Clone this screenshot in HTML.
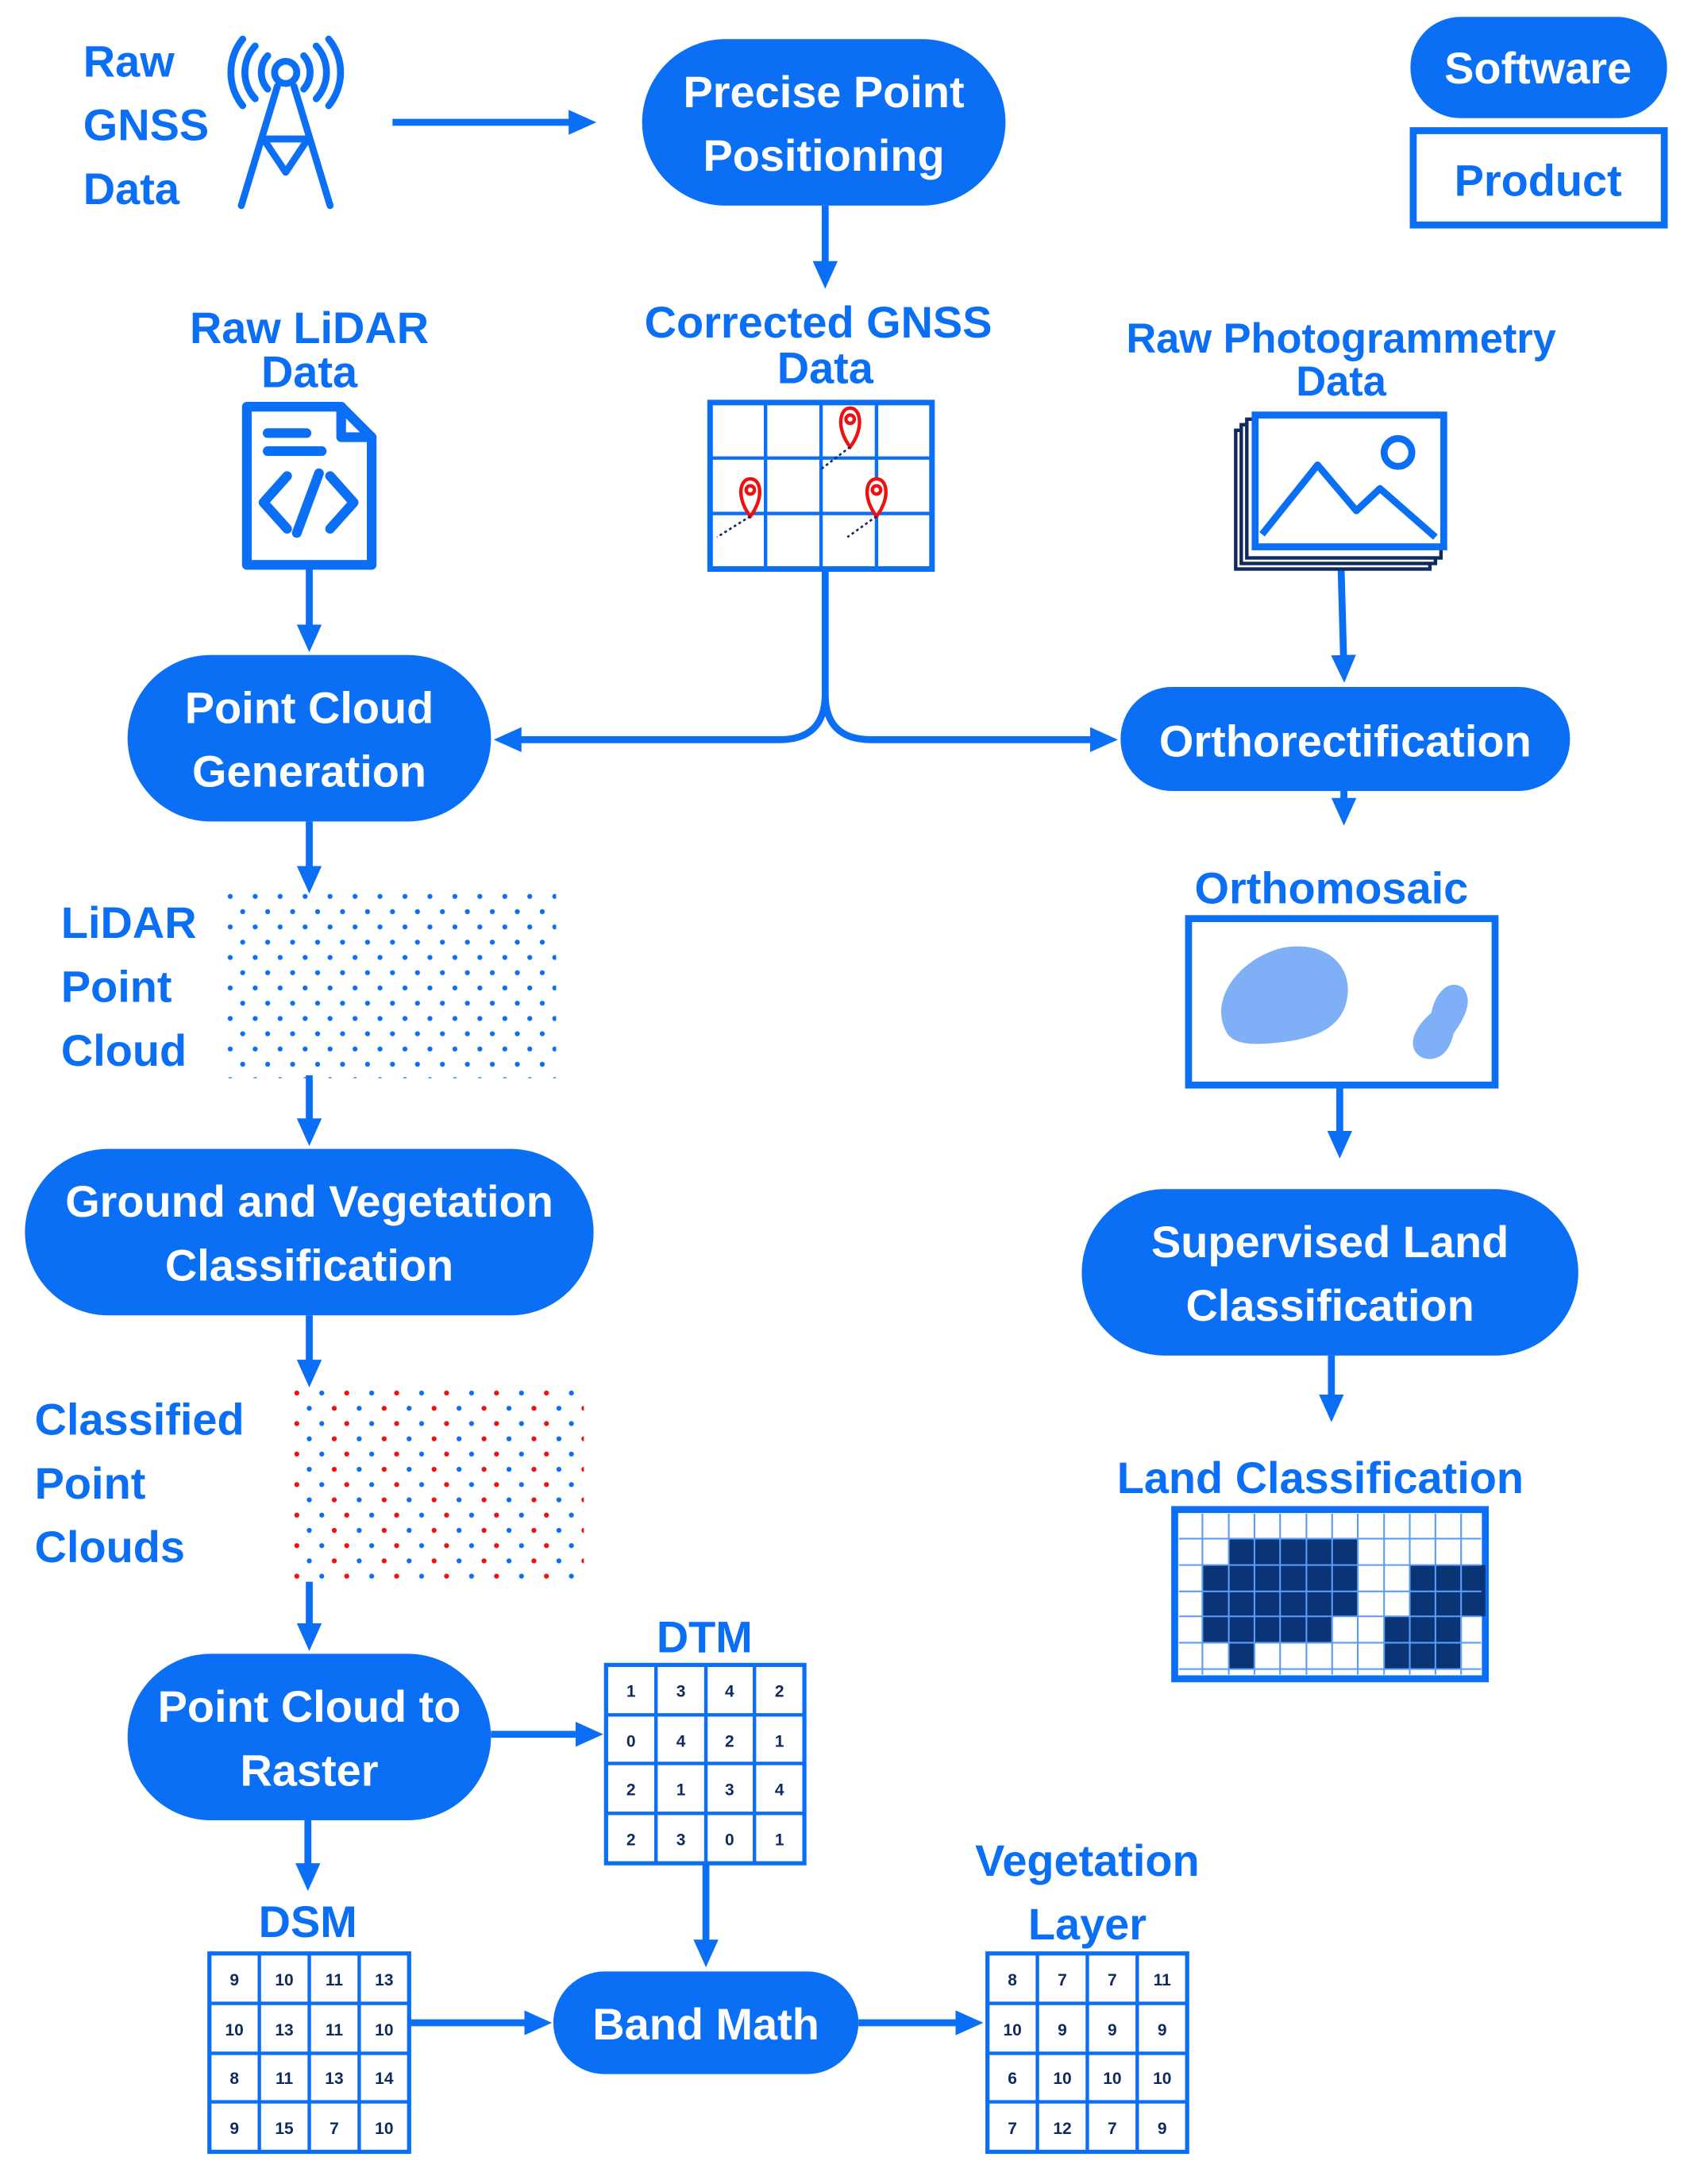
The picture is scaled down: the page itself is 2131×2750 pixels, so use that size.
<!DOCTYPE html>
<html><head><meta charset="utf-8"><style>
html,body{margin:0;padding:0;background:#fff;}
svg{display:block;}
text{font-family:"Liberation Sans",sans-serif;font-weight:bold;}
.b{fill:#0b6ff5;font-size:32px;}
.w{fill:#fff;font-size:32px;text-anchor:middle;}
.n{fill:#0f2a5c;font-size:12px;text-anchor:middle;font-weight:bold;}
</style></head><body>
<svg width="2131" height="2750" viewBox="0 0 1220 1574" xmlns="http://www.w3.org/2000/svg">
<defs>
<marker id="ah" markerWidth="22" markerHeight="22" refX="10" refY="9" orient="auto" markerUnits="userSpaceOnUse"><path d="M0,0 L20,9 L0,18 Z" fill="#0b6ff5"/></marker>
<pattern id="lid" width="18" height="22" patternUnits="userSpaceOnUse" x="163" y="643">
<circle cx="3" cy="3" r="1.8" fill="#0b6ff5"/><circle cx="12" cy="14" r="1.8" fill="#0b6ff5"/></pattern>
<pattern id="cls" width="36" height="22" patternUnits="userSpaceOnUse" x="211" y="1001">
<circle cx="3" cy="3" r="1.8" fill="#e11"/><circle cx="21" cy="3" r="1.8" fill="#0b6ff5"/>
<circle cx="12" cy="14" r="1.8" fill="#0b6ff5"/><circle cx="30" cy="14" r="1.8" fill="#e11"/></pattern>
</defs>
<g stroke="#0b6ff5" stroke-width="5" fill="none">
<line x1="283" y1="88" x2="420" y2="88" marker-end="url(#ah)"/>
<line x1="595" y1="148" x2="595" y2="198" marker-end="url(#ah)"/>
<line x1="223" y1="410" x2="223" y2="460" marker-end="url(#ah)"/>
<path d="M595,410 V500 Q595,533 562,533 H366" marker-end="url(#ah)"/>
<path d="M595,500 Q595,533 628,533 H796" marker-end="url(#ah)"/>
<line x1="967" y1="410" x2="969" y2="482" marker-end="url(#ah)"/>
<line x1="969" y1="570" x2="969" y2="585" marker-end="url(#ah)"/>
<line x1="966" y1="782" x2="966" y2="825" marker-end="url(#ah)"/>
<line x1="960" y1="977" x2="960" y2="1015" marker-end="url(#ah)"/>
<line x1="223" y1="592" x2="223" y2="634" marker-end="url(#ah)"/>
<line x1="223" y1="775" x2="223" y2="816" marker-end="url(#ah)"/>
<line x1="223" y1="948" x2="223" y2="990" marker-end="url(#ah)"/>
<line x1="223" y1="1140" x2="223" y2="1180" marker-end="url(#ah)"/>
<line x1="354" y1="1250" x2="425" y2="1250" marker-end="url(#ah)"/>
<line x1="509" y1="1343" x2="509" y2="1408" marker-end="url(#ah)"/>
<line x1="222" y1="1312" x2="222" y2="1353" marker-end="url(#ah)"/>
<line x1="295" y1="1458" x2="388" y2="1458" marker-end="url(#ah)"/>
<line x1="619" y1="1458" x2="699" y2="1458" marker-end="url(#ah)"/>
</g>
<g fill="#0b6ff5">
<rect x="463" y="28" width="262" height="120" rx="60"/>
<rect x="1017" y="12" width="185" height="73" rx="36"/>
<rect x="92" y="472" width="262" height="120" rx="60"/>
<rect x="808" y="495" width="324" height="75" rx="37"/>
<rect x="780" y="857" width="358" height="120" rx="60"/>
<rect x="18" y="828" width="410" height="120" rx="60"/>
<rect x="92" y="1192" width="262" height="120" rx="60"/>
<rect x="399" y="1421" width="220" height="74" rx="37"/>
</g>
<rect x="1019" y="94" width="181" height="68" fill="none" stroke="#0b6ff5" stroke-width="5"/>
<text class="w" x="594" y="77">Precise Point</text><text class="w" x="594" y="123">Positioning</text>
<text class="w" x="1109" y="60">Software</text>
<text class="b" x="1109" y="141" text-anchor="middle">Product</text>
<text class="w" x="223" y="521">Point Cloud</text><text class="w" x="223" y="567">Generation</text>
<text class="w" x="970" y="545">Orthorectification</text>
<text class="w" x="959" y="906">Supervised Land</text><text class="w" x="959" y="952">Classification</text>
<text class="w" x="223" y="877">Ground and Vegetation</text><text class="w" x="223" y="923">Classification</text>
<text class="w" x="223" y="1241">Point Cloud to</text><text class="w" x="223" y="1287">Raster</text>
<text class="w" x="509" y="1470">Band Math</text>
<text class="b" x="60" y="55">Raw</text><text class="b" x="60" y="101">GNSS</text><text class="b" x="60" y="147">Data</text>
<text class="b" x="590" y="243" text-anchor="middle">Corrected GNSS</text><text class="b" x="595" y="276" text-anchor="middle">Data</text>
<text class="b" x="223" y="247" text-anchor="middle">Raw LiDAR</text><text class="b" x="223" y="279" text-anchor="middle">Data</text>
<text class="b" x="967" y="254" text-anchor="middle" style="font-size:30px">Raw Photogrammetry</text><text class="b" x="967" y="285" text-anchor="middle" style="font-size:30px">Data</text>
<text class="b" x="960" y="651" text-anchor="middle">Orthomosaic</text>
<text class="b" x="952" y="1076" text-anchor="middle">Land Classification</text>
<text class="b" x="44" y="676">LiDAR</text><text class="b" x="44" y="722">Point</text><text class="b" x="44" y="768">Cloud</text>
<text class="b" x="25" y="1034">Classified</text><text class="b" x="25" y="1080">Point</text><text class="b" x="25" y="1126">Clouds</text>
<text class="b" x="508" y="1191" text-anchor="middle">DTM</text>
<text class="b" x="222" y="1396" text-anchor="middle">DSM</text>
<text class="b" x="784" y="1352" text-anchor="middle">Vegetation</text><text class="b" x="784" y="1398" text-anchor="middle">Layer</text>
<g stroke="#0b6ff5" stroke-width="5" fill="none" stroke-linecap="round">
<circle cx="206" cy="52" r="8"/>
<path d="M193,40 A18,18 0 0 0 193,64 M219,40 A18,18 0 0 1 219,64"/>
<path d="M184,33 A28,28 0 0 0 184,71 M228,33 A28,28 0 0 1 228,71"/>
<path d="M175,28 A38,38 0 0 0 175,76 M237,28 A38,38 0 0 1 237,76"/>
<path d="M200,62 L174,148 M212,62 L238,148 M190,100 H222 M190,100 L206,124 M222,100 L206,124"/>
</g>
<g stroke="#0b6ff5" fill="none">
<rect x="512" y="290" width="160" height="120" stroke-width="4"/>
<path d="M552,290V410 M592,290V410 M632,290V410 M512,330H672 M512,370H672" stroke-width="2.5"/>
</g>
<g stroke="#e11" stroke-width="2.5" fill="#fff">
<path d="M613,322 C603,309 605,294 613,294 C621,294 623,309 613,322Z"/><circle cx="613" cy="302" r="3"/>
<path d="M541,372 C531,359 533,345 541,345 C549,345 551,359 541,372Z"/><circle cx="541" cy="353" r="3"/>
<path d="M632,372 C622,359 624,345 632,345 C640,345 642,359 632,372Z"/><circle cx="632" cy="353" r="3"/>
</g>
<g stroke="#0f2a5c" stroke-width="1.5" stroke-dasharray="2,2" fill="none">
<path d="M613,322 L592,338 M541,372 L517,387 M632,372 L611,387"/>
</g>
<g stroke="#0b6ff5" stroke-width="7" fill="none" stroke-linejoin="round" stroke-linecap="round">
<path d="M178,293 H246 L268,315 V407 H178 Z"/>
<path d="M246,293 V315 H268"/>
<path d="M193,312 H221 M193,325 H232"/>
<path d="M207,343 L190,362 L207,381 M238,343 L255,362 L238,381 M230,341 L214,384"/>
</g>
<g fill="#fff" stroke="#0f2a5c" stroke-width="2.5">
<rect x="891" y="310" width="140" height="100"/>
<rect x="895" y="306" width="140" height="100"/>
<rect x="899" y="302" width="140" height="100"/>
</g>
<rect x="905" y="299" width="136" height="95" fill="#fff" stroke="#0b6ff5" stroke-width="5"/>
<g stroke="#0b6ff5" stroke-width="5" fill="none" stroke-linejoin="round">
<path d="M910,385 L950,335 L978,368 L995,352 L1035,387"/>
<circle cx="1008" cy="326" r="10"/>
</g>
<rect x="857" y="662" width="221" height="120" fill="#fff" stroke="#0b6ff5" stroke-width="5"/>
<path d="M885,745 C870,720 895,690 925,683 C960,677 978,700 970,725 C963,745 940,750 915,752 C900,753 890,752 885,745Z" fill="#7fb0f7"/>
<path d="M1025,762 C1013,755 1020,740 1032,730 C1035,715 1045,705 1055,712 C1063,722 1055,735 1048,745 C1045,760 1035,766 1025,762Z" fill="#7fb0f7"/>
<rect x="847" y="1088" width="224" height="122" fill="#fff" stroke="#0b6ff5" stroke-width="5"/>
<g fill="#0a3475">
<rect x="886" y="1109" width="93" height="19"/>
<rect x="867" y="1128" width="112" height="37"/>
<rect x="867" y="1165" width="93" height="19"/>
<rect x="886" y="1184" width="18" height="19"/>
<rect x="1016" y="1128" width="55" height="37"/>
<rect x="998" y="1165" width="55" height="38"/>
</g>
<g stroke="#5a9cf7" stroke-width="1.2">
<path d="M867,1091V1207 M886,1091V1207 M904.5,1091V1207 M923,1091V1207 M942,1091V1207 M960.5,1091V1207 M979,1091V1207 M998,1091V1207 M1016.5,1091V1207 M1035,1091V1207 M1053.5,1091V1207"/>
<path d="M850,1109H1068 M850,1128H1068 M850,1147H1068 M850,1165H1068 M850,1184H1068 M850,1203H1068"/>
</g>
<rect x="163" y="643" width="238" height="134" fill="url(#lid)"/>
<rect x="211" y="1001" width="210" height="141" fill="url(#cls)"/>
<g stroke="#0b6ff5" fill="none">
<rect x="437" y="1200" width="143" height="143" stroke-width="3"/>
<path d="M473,1200V1343 M509,1200V1343 M544,1200V1343 M437,1236H580 M437,1271H580 M437,1307H580" stroke-width="2.5"/>
<rect x="151" y="1408" width="144" height="143" stroke-width="3"/>
<path d="M187,1408V1551 M223,1408V1551 M259,1408V1551 M151,1444H295 M151,1480H295 M151,1515H295" stroke-width="2.5"/>
<rect x="712" y="1408" width="144" height="143" stroke-width="3"/>
<path d="M748,1408V1551 M784,1408V1551 M820,1408V1551 M712,1444H856 M712,1480H856 M712,1515H856" stroke-width="2.5"/>
</g>
<g>
<text class="n" x="455" y="1223">1</text><text class="n" x="491" y="1223">3</text><text class="n" x="526" y="1223">4</text><text class="n" x="562" y="1223">2</text>
<text class="n" x="455" y="1259">0</text><text class="n" x="491" y="1259">4</text><text class="n" x="526" y="1259">2</text><text class="n" x="562" y="1259">1</text>
<text class="n" x="455" y="1294">2</text><text class="n" x="491" y="1294">1</text><text class="n" x="526" y="1294">3</text><text class="n" x="562" y="1294">4</text>
<text class="n" x="455" y="1330">2</text><text class="n" x="491" y="1330">3</text><text class="n" x="526" y="1330">0</text><text class="n" x="562" y="1330">1</text>
<text class="n" x="169" y="1431">9</text><text class="n" x="205" y="1431">10</text><text class="n" x="241" y="1431">11</text><text class="n" x="277" y="1431">13</text>
<text class="n" x="169" y="1467">10</text><text class="n" x="205" y="1467">13</text><text class="n" x="241" y="1467">11</text><text class="n" x="277" y="1467">10</text>
<text class="n" x="169" y="1502">8</text><text class="n" x="205" y="1502">11</text><text class="n" x="241" y="1502">13</text><text class="n" x="277" y="1502">14</text>
<text class="n" x="169" y="1538">9</text><text class="n" x="205" y="1538">15</text><text class="n" x="241" y="1538">7</text><text class="n" x="277" y="1538">10</text>
<text class="n" x="730" y="1431">8</text><text class="n" x="766" y="1431">7</text><text class="n" x="802" y="1431">7</text><text class="n" x="838" y="1431">11</text>
<text class="n" x="730" y="1467">10</text><text class="n" x="766" y="1467">9</text><text class="n" x="802" y="1467">9</text><text class="n" x="838" y="1467">9</text>
<text class="n" x="730" y="1502">6</text><text class="n" x="766" y="1502">10</text><text class="n" x="802" y="1502">10</text><text class="n" x="838" y="1502">10</text>
<text class="n" x="730" y="1538">7</text><text class="n" x="766" y="1538">12</text><text class="n" x="802" y="1538">7</text><text class="n" x="838" y="1538">9</text>
</g>
</svg>
</body></html>
